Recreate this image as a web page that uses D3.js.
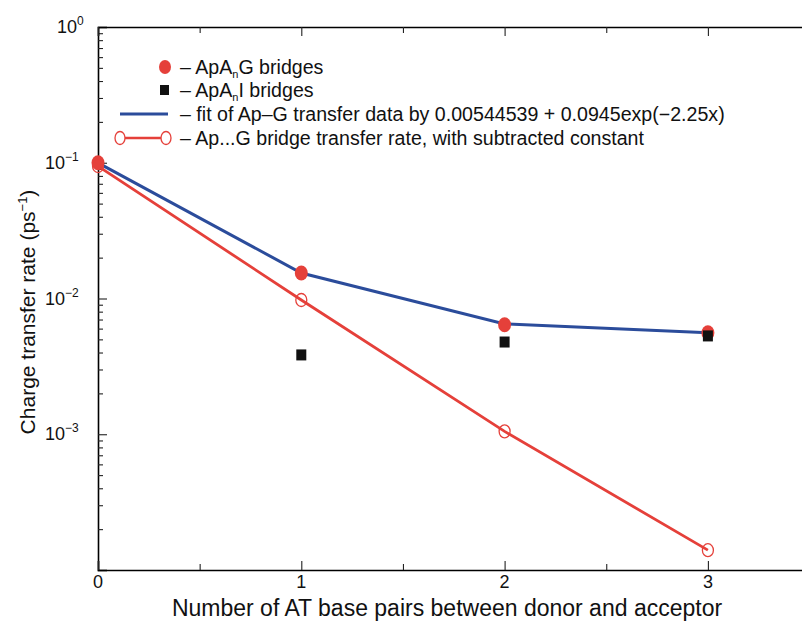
<!DOCTYPE html>
<html><head><meta charset="utf-8">
<script src="https://cdn.jsdelivr.net/npm/d3@7"></script>
<style>body{margin:0;background:#fff}svg{display:block}text{font-family:"Liberation Sans",Arial,sans-serif;fill:#111}</style>
</head><body>
<svg id="c" width="802" height="621"></svg>
<script>
// ---- data ----
const xCats = [0, 1, 2, 3];
const apagRates = [0.0999, 0.0154, 0.0064, 0.0056];      // ApAnG bridges (filled red circles)
const apaiX = [1, 2, 3];
const apaiRates = [0.00384, 0.00478, 0.0053];           // ApAnI bridges (black squares)
const fitRates = [0.0999, 0.0154, 0.0065, 0.0056];      // blue fit curve
const subRates = [0.0945, 0.00975, 0.00105, 0.00014];   // red open circles, subtracted constant
const xTickLabels = ["0", "1", "2", "3"];
const yTickExps = [0, -1, -2, -3];
const legendLabels = [
  ["– ApA", "n", "G bridges"],
  ["– ApA", "n", "I bridges"],
  ["– fit of Ap–G transfer data by 0.00544539 + 0.0945exp(−2.25x)"],
  ["– Ap...G bridge transfer rate, with subtracted constant"]
];

const RED = "#e5403a", BLUE = "#2b4c9b";
const svg = d3.select("#c");
const L = 98, T = 27, B = 570;
const x = d3.scaleLinear().domain([0, 3.5]).range([L, L + 3.5 * 203.3]);
const y = d3.scaleLog().domain([1e-4, 1]).range([B, T]);

// frame
const g = svg.append("g");
const majorY = [1e-4,1e-3,1e-2,1e-1,1];
const minorY = [];
for (let e = -4; e < 0; e++) for (let m = 2; m <= 9; m++) minorY.push(m * Math.pow(10, e));

g.append("g").attr("transform", `translate(${L},0)`)
  .call(d3.axisLeft(y).tickValues(majorY).tickSize(-9).tickFormat(""))
  .call(a => a.select(".domain").attr("stroke-width", 1.6));
g.append("g").attr("transform", `translate(${L},0)`)
  .call(d3.axisLeft(y).tickValues(minorY).tickSize(-5).tickFormat(""))
  .call(a => a.select(".domain").remove());
g.append("g").attr("transform", `translate(0,${B})`)
  .call(d3.axisBottom(x).tickValues([0,1,2,3]).tickSize(-9).tickFormat(""))
  .call(a => a.select(".domain").attr("stroke-width", 1.6));
g.append("g").attr("transform", `translate(0,${B})`)
  .call(d3.axisBottom(x).tickValues([0.5,1.5,2.5]).tickSize(-6).tickFormat(""))
  .call(a => a.select(".domain").remove());
g.append("g").attr("transform", `translate(0,${T})`)
  .call(d3.axisTop(x).tickValues([0,1,2,3]).tickSize(-9).tickFormat(""))
  .call(a => a.select(".domain").attr("stroke-width", 1.6));
g.append("g").attr("transform", `translate(0,${T})`)
  .call(d3.axisTop(x).tickValues([0.5,1.5,2.5]).tickSize(-6).tickFormat(""))
  .call(a => a.select(".domain").remove());
g.selectAll(".tick line").attr("stroke", "#222").attr("stroke-width", 1.1);

// tick labels
svg.selectAll("text.xl").data(xTickLabels).join("text")
  .attr("x", (d, i) => x(xCats[i])).attr("y", 588)
  .attr("text-anchor", "middle").attr("font-size", 18).text(d => d);
const yl = svg.selectAll("text.yl").data(yTickExps).join("text")
  .attr("x", d => d === 0 ? 57 : 45).attr("y", d => y(Math.pow(10, d)) + 6)
  .attr("text-anchor", "start").attr("font-size", 18);
yl.append("tspan").text("10");
yl.append("tspan").attr("dy", -8).attr("font-size", 12).text(d => d === 0 ? "0" : "−" + (-d));

// axis titles
svg.append("text").attr("x", 447).attr("y", 616).attr("text-anchor", "middle")
  .attr("font-size", 23).text("Number of AT base pairs between donor and acceptor");
const yt = svg.append("text").attr("transform", "translate(35,312) rotate(-90)")
  .attr("text-anchor", "middle").attr("font-size", 21);
yt.append("tspan").text("Charge transfer rate (ps");
yt.append("tspan").attr("dy", -8).attr("font-size", 13).text("−1");
yt.append("tspan").attr("dy", 8).text(")");

// lines
const line = d3.line().x((d, i) => x(xCats[i])).y(d => y(d));
svg.append("path").datum(subRates).attr("d", line).attr("fill", "none")
  .attr("stroke", RED).attr("stroke-width", 2.8);
svg.append("path").datum(fitRates).attr("d", line).attr("fill", "none")
  .attr("stroke", BLUE).attr("stroke-width", 3);

// markers
svg.selectAll("ellipse.apag").data(apagRates).join("ellipse")
  .attr("cx", (d, i) => x(xCats[i])).attr("cy", d => y(d))
  .attr("rx", 6.5).attr("ry", 7.5).attr("fill", RED);
svg.selectAll("ellipse.sub").data(subRates).join("ellipse")
  .attr("cx", (d, i) => x(xCats[i])).attr("cy", d => y(d))
  .attr("rx", 5.5).attr("ry", 6.5).attr("fill", "none")
  .attr("stroke", RED).attr("stroke-width", 1.3);
svg.selectAll("rect.apai").data(apaiRates).join("rect")
  .attr("x", (d, i) => x(apaiX[i]) - 5).attr("y", d => y(d) - 5.5)
  .attr("width", 10).attr("height", 11).attr("fill", "#111");

// legend
const ly = [67, 90, 114, 138];
const lg = svg.append("g");
lg.append("ellipse").attr("cx", 165).attr("cy", ly[0]).attr("rx", 6).attr("ry", 7).attr("fill", RED);
lg.append("rect").attr("x", 160).attr("y", ly[1] - 5).attr("width", 9).attr("height", 10).attr("fill", "#111");
lg.append("line").attr("x1", 120).attr("x2", 168).attr("y1", ly[2]).attr("y2", ly[2])
  .attr("stroke", BLUE).attr("stroke-width", 3);
lg.append("line").attr("x1", 118).attr("x2", 168).attr("y1", ly[3]).attr("y2", ly[3])
  .attr("stroke", RED).attr("stroke-width", 2.6);
[120, 166].forEach(cx => lg.append("ellipse").attr("cx", cx).attr("cy", ly[3]).attr("rx", 5).attr("ry", 6.5)
  .attr("fill", "#fff").attr("stroke", RED).attr("stroke-width", 1.3));
legendLabels.forEach((parts, i) => {
  const t = lg.append("text").attr("x", 180).attr("y", ly[i] + 6.5).attr("font-size", 19.6);
  if (parts.length === 3) {
    t.append("tspan").text(parts[0]);
    t.append("tspan").attr("dy", 4).attr("font-size", 11).text(parts[1]);
    t.append("tspan").attr("dy", -4).text(parts[2]);
  } else t.text(parts[0]);
});
</script>
</body></html>
